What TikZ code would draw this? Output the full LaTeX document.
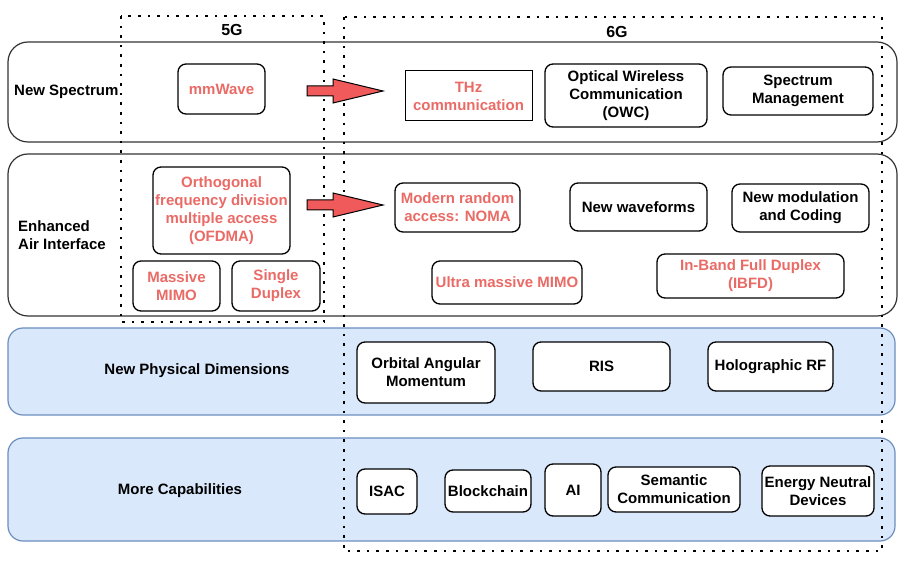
\documentclass[tikz,border=0pt]{standalone}
\usepackage{fontspec}
\setmainfont{Liberation Sans}
\definecolor{txtred}{HTML}{EA6B66}
\definecolor{arrred}{HTML}{F05A5A}
\definecolor{bluefill}{HTML}{DAE8FC}
\definecolor{bluedraw}{HTML}{6C8EBF}
\begin{document}
\begin{tikzpicture}[x=1pt,y=-1pt,
  font=\fontsize{15}{18}\selectfont\bfseries,
  row/.style={draw=black!80,line width=1.2pt,rounded corners=20pt,fill=white},
  bluerow/.style={draw=bluedraw,line width=1.2pt,rounded corners=15pt,fill=bluefill},
  gen/.style={line width=2.6pt,dash pattern=on 2.6pt off 7pt},
  box/.style={draw,fill=white,line width=1.3pt,rounded corners=8pt,align=center,inner sep=0pt},
  sz/.style 2 args={minimum width=#1pt,minimum height=#2pt},
  redtxt/.style={text=txtred}]
\useasboundingbox (0,0) rectangle (911,569);

\draw[row] (8,42) rectangle (897,142);
\draw[row] (8,154) rectangle (897,316);
\draw[bluerow] (8,328) rectangle (895,415);
\draw[bluerow] (8,438) rectangle (895,541);

\node[anchor=west,inner sep=0pt] (spec) at (14,92) {New Spectrum};
\node[anchor=west,align=left,inner sep=0pt] (air) at (18,235) {Enhanced\\Air Interface};
\node (phys) at (197,371) {New Physical Dimensions};
\node (capab) at (180,491) {More Capabilities};

\draw[gen] (121,16) rectangle (324,322);
\draw[gen] (344,17) rectangle (882,551);
\node[font=\fontsize{16}{19}\selectfont\bfseries] (fiveg) at (232,30) {5G};
\node[font=\fontsize{16}{19}\selectfont\bfseries] (sixg) at (617,32) {6G};

\foreach \y in {91,205}{
\draw[fill=arrred,line width=1pt] (307,\y-5) -- (333,\y-5) -- (333,\y-12) -- (383,\y)
  -- (333,\y+12) -- (333,\y+5) -- (307,\y+5) -- cycle;
}

\node[box,redtxt,sz={87}{50}] (mmw) at (221.5,89) {mmWave};
\node[box,redtxt,sz={127}{50},rounded corners=0pt,line width=1pt] (thz) at (468.5,96) {THz\\communication};
\node[box,sz={162}{63}] (owc) at (626,95.5) {Optical Wireless\\Communication\\(OWC)};
\node[box,sz={150}{48}] (smgmt) at (798,91) {Spectrum\\Management};

\node[box,redtxt,sz={137}{87}] (ofdma) at (221.5,210.5) {Orthogonal\\frequency division\\multiple access\\(OFDMA)};
\node[box,redtxt,sz={87}{50}] (mmimo) at (176.5,286) {Massive\\MIMO};
\node[box,redtxt,sz={88}{50}] (sdup) at (276,286) {Single\\Duplex};
\node[box,redtxt,sz={125}{49}] (noma) at (457.5,207.5) {Modern random\\access: NOMA};
\node[box,sz={137}{48}] (wave) at (638.5,207) {New waveforms};
\node[box,sz={137}{48}] (modc) at (800.5,208) {New modulation\\and Coding};
\node[box,redtxt,sz={150}{43}] (umimo) at (507,282.5) {Ultra massive MIMO};
\node[box,redtxt,sz={187}{44}] (ibfd) at (750.5,276) {In-Band Full Duplex\\(IBFD)};

\node[box,sz={138}{61}] (oam) at (426,372.5) {Orbital Angular\\Momentum};
\node[box,sz={137}{49}] (ris) at (601.5,366.5) {RIS};
\node[box,sz={125}{49}] (holo) at (770.5,366.5) {Holographic RF};

\node[box,sz={60}{45}] (isac) at (387,491.5) {ISAC};
\node[box,sz={86}{42}] (bchain) at (488,491) {Blockchain};
\node[box,sz={56}{52}] (ai) at (573,490) {AI};
\node[box,sz={132}{45}] (semc) at (674,489.5) {Semantic\\Communication};
\node[box,sz={112}{50}] (endev) at (818,491) {Energy Neutral\\Devices};
\end{tikzpicture}
\end{document}
